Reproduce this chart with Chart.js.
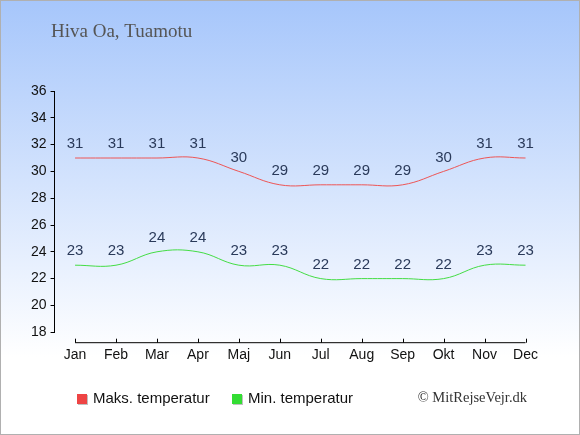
<!DOCTYPE html>
<html><head><meta charset="utf-8">
<script src="https://cdn.jsdelivr.net/npm/chart.js@4/dist/chart.umd.min.js"></script>
<style>html,body{margin:0;padding:0;background:#fff}#wrap{width:580px;height:435px;position:relative}</style>
</head><body><div id="wrap"><canvas id="c" width="580" height="435"></canvas></div>
<script>
const months = ['Jan','Feb','Mar','Apr','Maj','Jun','Jul','Aug','Sep','Okt','Nov','Dec'];
const maxTemp = [31,31,31,31,30,29,29,29,29,30,31,31];
const minTemp = [23,23,24,24,23,23,22,22,22,22,23,23];
const yTicks = [18,20,22,24,26,28,30,32,34,36];
const titleText = 'Hiva Oa, Tuamotu';
const legendLabels = ['Maks. temperatur','Min. temperatur'];
const creditText = '\u00A9 MitRejseVejr.dk';

const decor = {
  id:'decor',
  beforeDraw(chart){
    const ctx = chart.ctx, W = chart.width, H = chart.height;
    ctx.save();
    const g = ctx.createLinearGradient(0,0,0,H);
    g.addColorStop(0,'#a6c6fb');
    g.addColorStop(0.82,'#ffffff');
    g.addColorStop(1,'#ffffff');
    ctx.fillStyle = g;
    ctx.fillRect(0,0,W,H);
    ctx.strokeStyle = '#b0b0b0';
    ctx.lineWidth = 2;
    ctx.strokeRect(0,0,W,H);
    ctx.fillStyle = '#555555';
    ctx.font = '19px "Liberation Serif", "DejaVu Serif", serif';
    ctx.textBaseline = 'alphabetic';
    ctx.textAlign = 'left';
    ctx.fillText(titleText, 51, 37);
    ctx.restore();
  },
  afterDraw(chart){
    const ctx = chart.ctx;
    const xs = chart.scales.x, ys = chart.scales.y;
    ctx.save();
    const axY = chart.chartArea.bottom + 10.5;
    const x0 = xs.getPixelForValue(0), x1 = xs.getPixelForValue(months.length-1);
    ctx.strokeStyle = '#000'; ctx.lineWidth = 1;
    ctx.beginPath(); ctx.moveTo(x0, axY); ctx.lineTo(x1, axY);
    for (let i=0;i<months.length;i++){
      const px = Math.round(xs.getPixelForValue(i))+0.5;
      ctx.moveTo(px, axY-4); ctx.lineTo(px, axY);
    }
    ctx.stroke();
    ctx.fillStyle = '#2a3a5a';
    ctx.font = '15px "Liberation Sans", Arial, sans-serif';
    ctx.textAlign = 'center'; ctx.textBaseline = 'middle';
    [maxTemp, minTemp].forEach(arr=>{
      arr.forEach((v,i)=>{
        ctx.fillText(String(v), xs.getPixelForValue(i), ys.getPixelForValue(v)-14);
      });
    });
    const items = [[77,'#ee4444',legendLabels[0]],[232,'#33dd33',legendLabels[1]]];
    ctx.font = '15px "Liberation Sans", Arial, sans-serif';
    ctx.textAlign = 'left';
    items.forEach(([lx,col,txt])=>{
      ctx.fillStyle = '#c0c0c0'; ctx.fillRect(lx+1, 395, 10, 10);
      ctx.fillStyle = col; ctx.fillRect(lx, 394, 10, 10);
      ctx.fillStyle = '#111'; ctx.fillText(txt, lx+16, 399);
    });
    ctx.fillStyle = '#333';
    ctx.font = '14.5px "Liberation Serif", "DejaVu Serif", serif';
    ctx.textAlign = 'right';
    ctx.fillText(creditText, 527, 398);
    ctx.restore();
  }
};

new Chart(document.getElementById('c'), {
  type:'line',
  data:{
    labels: months,
    datasets:[
      {label:legendLabels[0], data:maxTemp, borderColor:'#ee5555', borderWidth:1, tension:0.4, pointRadius:0, fill:false},
      {label:legendLabels[1], data:minTemp, borderColor:'#44dd44', borderWidth:1, tension:0.4, pointRadius:0, fill:false}
    ]
  },
  options:{
    responsive:false, animation:false, devicePixelRatio:1,
    layout:{padding:{left:27, right:34, top:91, bottom:56}},
    plugins:{legend:{display:false}, title:{display:false}, tooltip:{enabled:false}},
    scales:{
      x:{
        offset:true,
        grid:{display:false, drawTicks:false},
        border:{display:false},
        ticks:{padding:15, color:'#111', font:{family:'"Liberation Sans", Arial, sans-serif', size:14}, maxRotation:0, autoSkip:false}
      },
      y:{
        min:18, max:36,
        afterBuildTicks(scale){ scale.ticks = yTicks.map(v=>({value:v})); },
        grid:{drawOnChartArea:false, drawTicks:true, tickLength:4, color:'#000'},
        border:{display:true, color:'#000', width:1},
        ticks:{padding:4, color:'#111', font:{family:'"Liberation Sans", Arial, sans-serif', size:14}}
      }
    }
  },
  plugins:[decor]
});
</script></body></html>
